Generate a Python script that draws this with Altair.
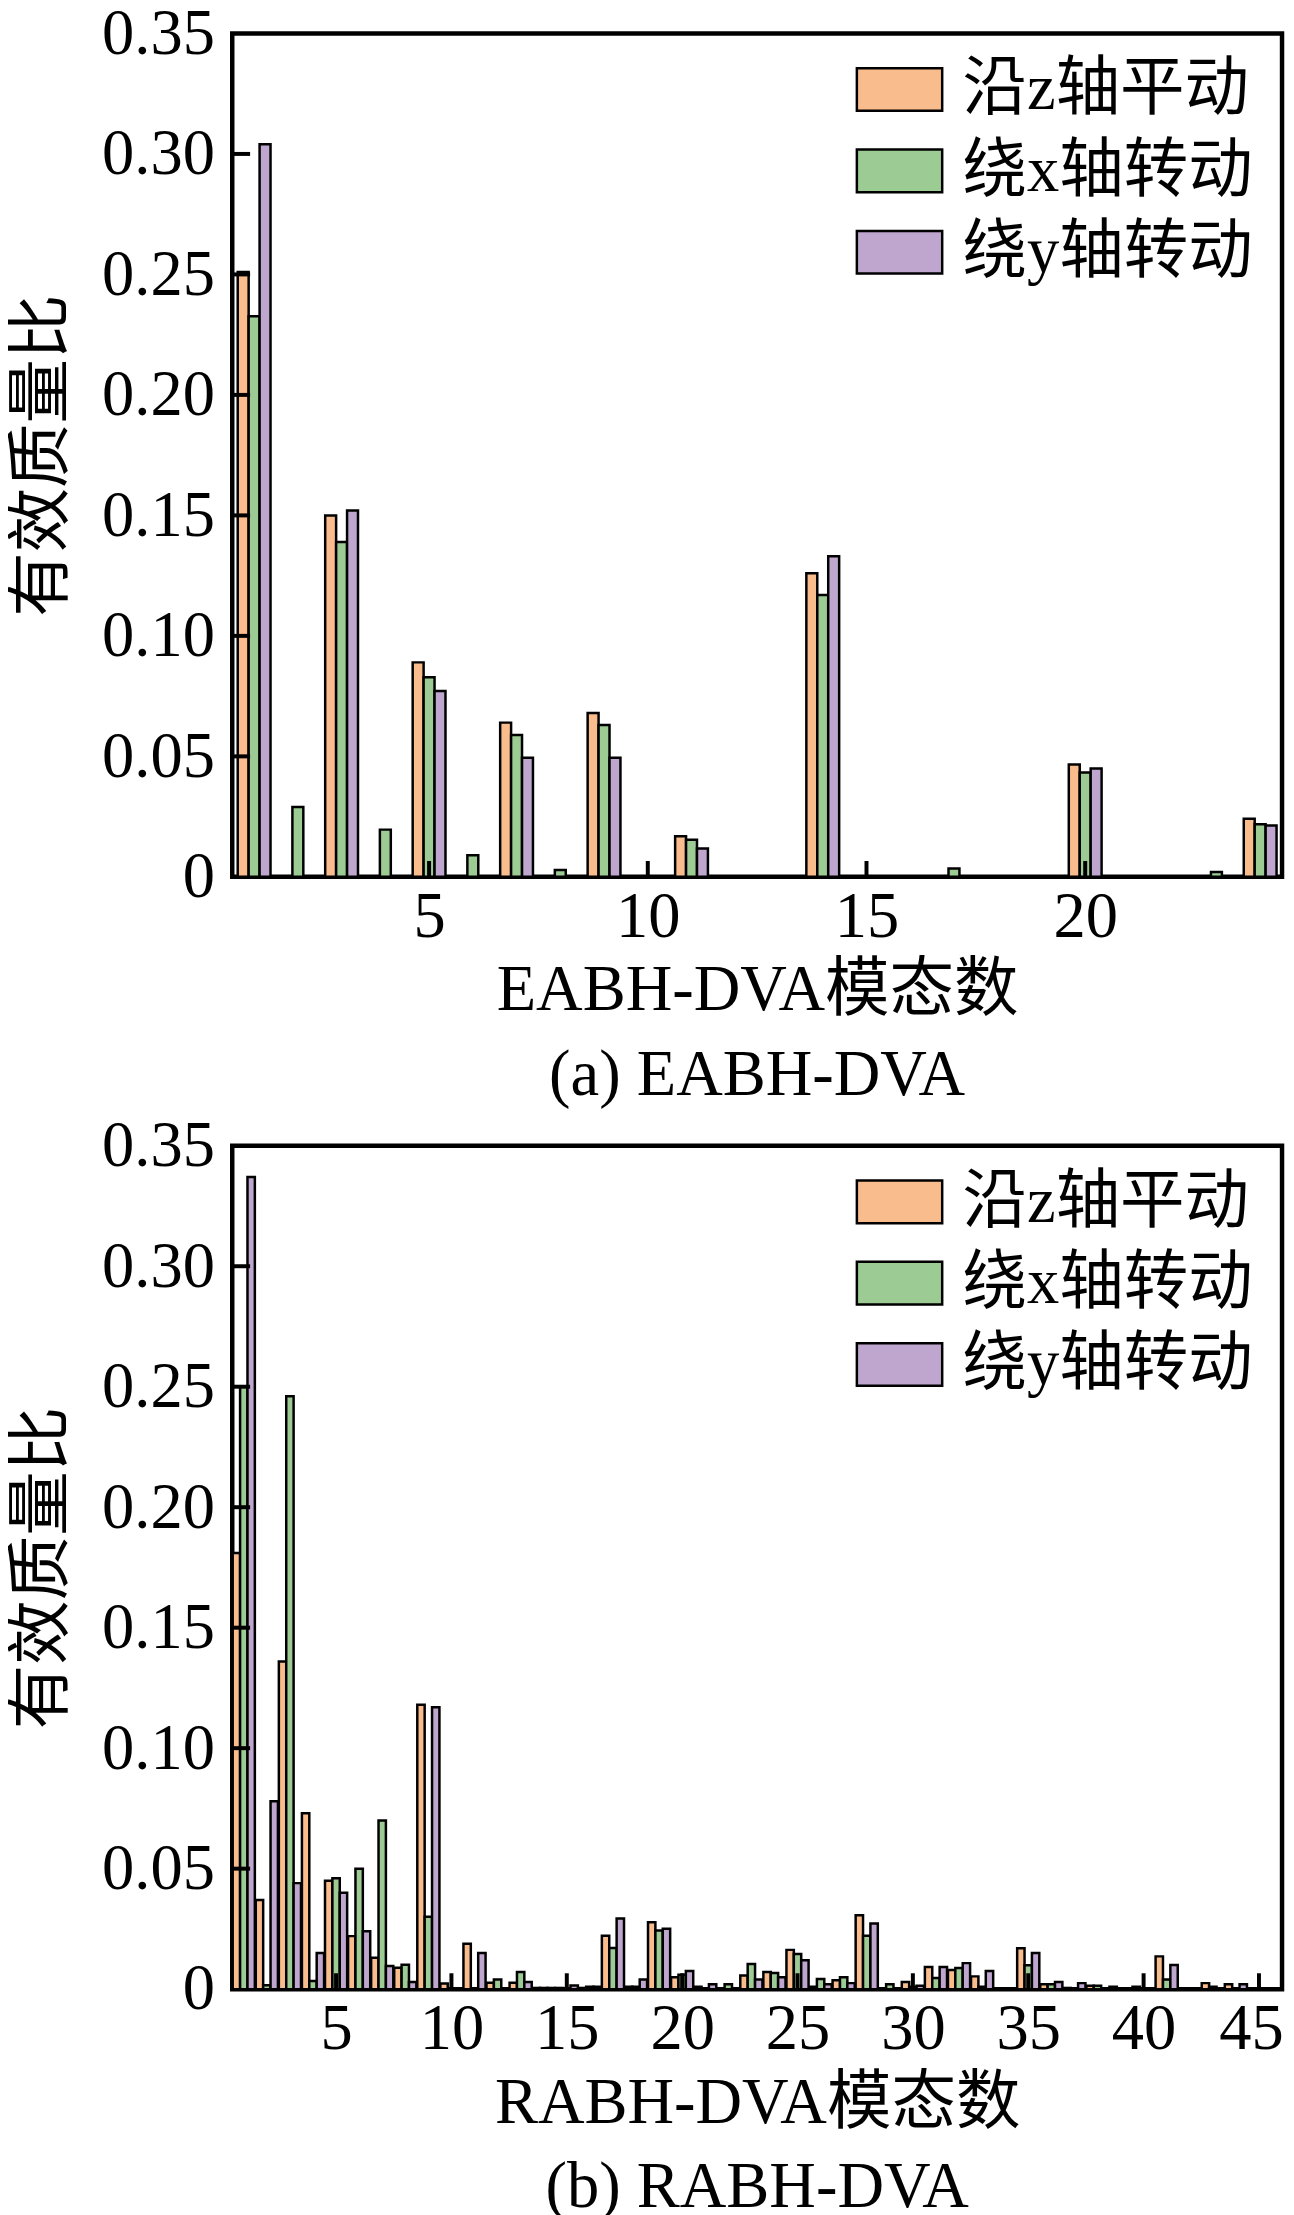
import altair as alt
import pandas as pd

FONT = "Liberation Serif, Noto Sans CJK SC"
SERIES = ["沿z轴平动", "绕x轴转动", "绕y轴转动"]
COLORS = ["#F9BC8D", "#9CCB93", "#BEA6CE"]

# ---- panel (a) EABH-DVA : modes 1..24 ----
modes_a = list(range(1, 25))
z_a = [0.251, 0, 0.150, 0, 0.089, 0, 0.064, 0, 0.068, 0, 0.0168, 0, 0, 0.126,
       0, 0, 0, 0, 0, 0.0466, 0, 0, 0, 0.0241]
x_a = [0.2326, 0.029, 0.139, 0.0196, 0.0828, 0.009, 0.0589, 0.0028, 0.063, 0,
       0.0154, 0, 0, 0.117, 0, 0, 0.0035, 0, 0, 0.0433, 0, 0, 0.002, 0.0218]
y_a = [0.304, 0, 0.152, 0, 0.0771, 0, 0.0494, 0, 0.0494, 0, 0.0118, 0, 0, 0.133,
       0, 0, 0, 0, 0, 0.045, 0, 0, 0, 0.0213]
xticks_a = [5, 10, 15, 20]

# ---- panel (b) RABH-DVA : modes 1..45 ----
modes_b = list(range(1, 46))
z_b = [0.181, 0.037, 0.136, 0.073, 0.045, 0.022, 0.013, 0.0089, 0.118, 0.0023,
       0.0188, 0.0027, 0.0027, 0.0005, 0.0005, 0.0005, 0.0222, 0.001, 0.0278, 0.0049,
       0.001, 0, 0.0057, 0.0071, 0.0163, 0.001, 0.0037, 0.0307, 0, 0.003,
       0.0092, 0.0079, 0.0053, 0, 0.017, 0.002, 0.0005, 0.0014, 0.001, 0.001,
       0.0136, 0, 0.0025, 0.002, 0]
x_b = [0.250, 0.0016, 0.246, 0.0034, 0.046, 0.050, 0.070, 0.0101, 0.030, 0,
       0, 0.004, 0.0071, 0.0005, 0, 0.001, 0.0171, 0.001, 0.0243, 0.006,
       0, 0.002, 0.0104, 0.0067, 0.0146, 0.0042, 0.0049, 0.0222, 0.002, 0.001,
       0.0046, 0.0088, 0.001, 0, 0.0099, 0.002, 0, 0.0014, 0, 0,
       0.004, 0, 0.001, 0, 0]
y_b = [0.337, 0.078, 0.044, 0.015, 0.040, 0.024, 0.0096, 0.003, 0.117, 0,
       0.015, 0, 0.003, 0.0005, 0.0015, 0.001, 0.0293, 0.004, 0.0251, 0.0075,
       0.002, 0, 0.004, 0.0049, 0.012, 0.002, 0.0025, 0.0272, 0, 0.0014,
       0.0092, 0.0108, 0.0075, 0, 0.015, 0.003, 0.0025, 0, 0, 0,
       0.010, 0, 0, 0.002, 0]
xticks_b = [5, 10, 15, 20, 25, 30, 35, 40, 45]

yvals = [0, 0.05, 0.10, 0.15, 0.20, 0.25, 0.30, 0.35]
yticks_inner = [0.05, 0.10, 0.15, 0.20, 0.25, 0.30]

W, H = 1058, 850
FS = 65
LEG_PATH = "M-1.5,-0.75L1.5,-0.75L1.5,0.75L-1.5,0.75Z"


def panel(modes, z, xv, yv, bw, dom, xticks, xtitle, caption, last_shift):
    n = len(modes)
    df = pd.DataFrame({
        "mode": modes * 3,
        "series": [SERIES[0]] * n + [SERIES[1]] * n + [SERIES[2]] * n,
        "v": z + xv + yv,
    })
    xs = alt.Scale(domain=dom, nice=False, zero=False)
    ys = alt.Scale(domain=[0, 0.35], nice=False)
    xaxis = alt.Axis(
        values=xticks, format="d", title=xtitle, grid=False, domain=False,
        ticks=False, labelPadding=9, labelFontSize=FS, labelFont=FONT,
        labelColor="black", titleFont=FONT, titleFontSize=FS,
        titleFontWeight="normal", titleColor="black", titlePadding=10,
        labelFlush=False, labelOverlap=False, labelBound=False,
        labelOffset={"condition": {"test": f"datum.value == {xticks[-1]}",
                                   "value": last_shift}, "value": 0})
    yaxis = alt.Axis(
        values=yvals, labelExpr="datum.value == 0 ? '0' : format(datum.value, '.2f')",
        title="有效质量比", grid=False, domain=False, ticks=False,
        labelPadding=18, labelFontSize=FS, labelFont=FONT, labelColor="black",
        titleFont=FONT, titleFontSize=FS, titleFontWeight="normal",
        titleColor="black", titlePadding=26, labelOverlap=False,
        labelFlush=False, labelBound=False)

    bars = (
        alt.Chart(df)
        .transform_filter("datum.v > 0")
        .transform_calculate(
            off=f"datum.series == '{SERIES[0]}' ? {-bw} : (datum.series == '{SERIES[1]}' ? 0 : {bw})"
        )
        .transform_calculate(
            x0=f"datum.mode + datum.off - {bw / 2}",
            x1=f"datum.mode + datum.off + {bw / 2}",
        )
        .mark_rect(stroke="black", strokeWidth=2.5)
        .encode(
            x=alt.X("x0:Q", scale=xs, axis=xaxis),
            x2="x1:Q",
            y=alt.Y("v:Q", scale=ys, axis=yaxis),
            y2=alt.datum(0),
            color=alt.Color("series:N", scale=alt.Scale(domain=SERIES, range=COLORS),
                            legend=alt.Legend(
                                title=None, orient="none", legendX=640, legendY=24,
                                padding=0,
                                labelFont=FONT, labelFontSize=FS, labelColor="black",
                                labelLimit=0, labelOffset=31, rowPadding=16,
                                symbolType=LEG_PATH, symbolSize=3287,
                                symbolStrokeColor="black", symbolStrokeWidth=2.5,
                                symbolOpacity=1)),
        )
    )

    xt = (
        alt.Chart(pd.DataFrame({"t": xticks}))
        .mark_rule(color="black", strokeWidth=4)
        .encode(x=alt.X("t:Q", scale=xs, axis=xaxis),
                y=alt.value(H), y2=alt.value(H - 16))
    )
    yt = (
        alt.Chart(pd.DataFrame({"t": yticks_inner}))
        .mark_rule(color="black", strokeWidth=4)
        .encode(y=alt.Y("t:Q", scale=ys, axis=yaxis),
                x=alt.value(0), x2=alt.value(18))
    )
    return alt.layer(bars, xt, yt).properties(
        width=W, height=H,
        title=alt.TitleParams(caption, orient="bottom", anchor="middle", frame="group",
                              offset=22, font=FONT, fontSize=FS, fontWeight="normal",
                              color="black"),
    )


top = panel(modes_a, z_a, x_a, y_a, 0.25, [0.5, 24.5], xticks_a,
            "EABH-DVA模态数", "(a) EABH-DVA", 0)
bottom = panel(modes_b, z_b, x_b, y_b, 0.32, [0.5, 46], xticks_b,
               "RABH-DVA模态数", "(b)  RABH-DVA", -8)

chart = (
    alt.vconcat(top, bottom, spacing=0)
    .resolve_legend(color="independent")
    .properties(padding={"left": 0, "top": -18, "right": 0, "bottom": -14},
                background="white")
    .configure_view(stroke="black", strokeWidth=4.5)
)

chart.save("out.html", embed_options={"renderer": "svg", "actions": False})
